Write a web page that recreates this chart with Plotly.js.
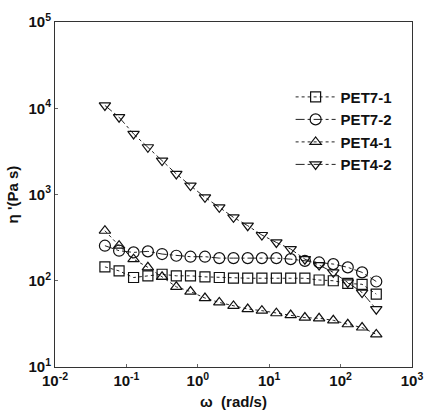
<!DOCTYPE html>
<html><head><meta charset="utf-8">
<script src="https://cdn.plot.ly/plotly-3.0.1.min.js"></script>
<style>html,body{margin:0;padding:0;background:#fff}#plot{width:425px;height:410px}</style>
</head><body><div id="plot"></div>
<script>
const omega = [0.05, 0.079, 0.126, 0.2, 0.316, 0.5, 0.79, 1.26, 2, 3.16, 5, 7.9, 12.6, 20, 31.6, 50, 79, 126, 200, 316];
const pet71 = [145, 130, 109, 114, 119, 114, 114, 111, 109, 107, 107, 107, 107, 107, 107, 102, 100, 93, 91, 70];
const pet72 = [255, 223, 213, 219, 204, 195, 190, 190, 183, 183, 183, 183, 183, 178, 170, 163, 156, 143, 125, 98];
const pet41 = [380, 255, 178, 143, 111, 85, 75, 63, 56, 51, 47, 45, 42, 40, 37.4, 36.7, 34.8, 31.3, 28.7, 23.9];
const pet42 = [10770, 7870, 5040, 3530, 2470, 1730, 1267, 927, 710, 543, 435, 339, 278, 233, 178, 152, 125, 95.5, 73, 46.8];
const names = ['PET7-1', 'PET7-2', 'PET4-1', 'PET4-2'];
const symbols = ['square-open', 'circle-open', 'triangle-up-open', 'triangle-down-open'];
const dashes = ['dot', 'dashdot', 'dot', 'dashdot'];
const series = [pet71, pet72, pet41, pet42];
const xTickVals = [0.01, 0.1, 1, 10, 100, 1000];
const xTickText = ['10<sup>-2</sup>', '10<sup>-1</sup>', '10<sup>0</sup>', '10<sup>1</sup>', '10<sup>2</sup>', '10<sup>3</sup>'];
const yTickVals = [10, 100, 1000, 10000, 100000];
const yTickText = ['10<sup>1</sup>', '10<sup>2</sup>', '10<sup>3</sup>', '10<sup>4</sup>', '10<sup>5</sup>'];

const traces = series.map((s, i) => ({
  x: omega, y: s, name: names[i], type: 'scatter', mode: 'lines+markers',
  line: {color: '#222', width: 1, dash: dashes[i]},
  marker: {symbol: symbols[i], size: i === 1 ? 11 : 10, color: '#111', line: {width: 1.2, color: '#111'}}
}));

const fam = 'Liberation Sans, Arial, sans-serif';
const layout = {
  width: 425, height: 410,
  margin: {l: 55, r: 13, t: 22, b: 43},
  paper_bgcolor: '#fff', plot_bgcolor: '#fff',
  font: {family: fam, color: '#111', size: 14},
  showlegend: true,
  legend: {x: 0.66, y: 0.83, xanchor: 'left', yanchor: 'top', bgcolor: 'rgba(0,0,0,0)',
           font: {size: 15, family: fam, weight: 'bold'}, tracegroupgap: 0, itemwidth: 40},
  xaxis: {type: 'log', range: [-2, 3], tickvals: xTickVals, ticktext: xTickText,
          tickfont: {size: 15, family: fam, weight: 'bold'},
          showgrid: false, zeroline: false, showline: true, mirror: true, linecolor: '#333', linewidth: 1,
          ticks: 'inside', ticklen: 3, tickcolor: '#666',
          title: {text: 'ω  (rad/s)', standoff: 15, font: {size: 15, family: fam, weight: 'bold'}}},
  yaxis: {type: 'log', range: [1, 5], tickvals: yTickVals, ticktext: yTickText,
          tickfont: {size: 15, family: fam, weight: 'bold'},
          showgrid: false, zeroline: false, showline: true, mirror: true, linecolor: '#333', linewidth: 1,
          ticks: 'inside', ticklen: 3, tickcolor: '#666',
          title: {text: "η '(Pa s)", standoff: 6, font: {size: 15, family: fam, weight: 'bold'}}}
};
Plotly.newPlot('plot', traces, layout, {displayModeBar: false, staticPlot: true});
</script></body></html>
